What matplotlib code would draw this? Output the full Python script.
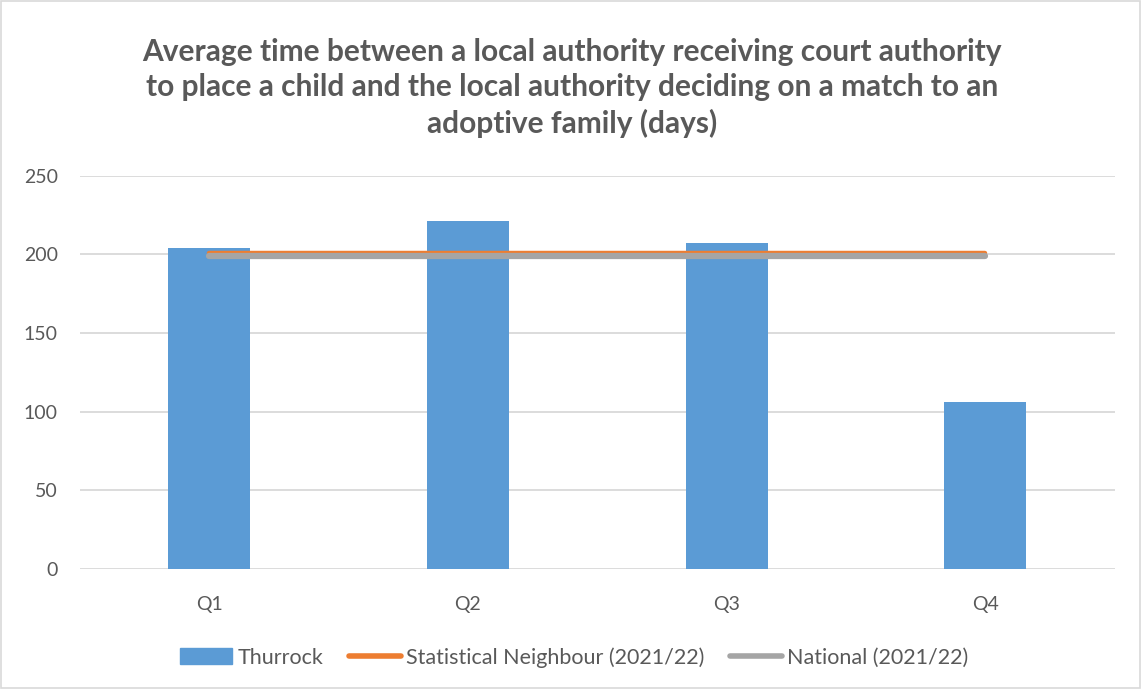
import numpy as np
import matplotlib.pyplot as plt
import matplotlib.patches as patches
from matplotlib.lines import Line2D

# quarterly adoption timeliness (days)
quarters = ['Q1', 'Q2', 'Q3', 'Q4']
thurrock = [204, 221, 207, 106]
stat_neighbour = [201, 201, 201, 201]
national = [199, 199, 199, 199]

plt.rcParams['font.family'] = ['Lato', 'DejaVu Sans']
text_grey = '#595959'
bar_col = '#5b9bd5'
orange = '#ed7d31'
grey = '#a5a5a5'

fig = plt.figure(figsize=(11.42, 6.89), dpi=100)
ax = fig.add_axes([0.070, 0.174, 0.906, 0.571])

x = np.arange(len(quarters))
ax.bar(x, thurrock, width=0.317, color=bar_col, zorder=2)
ax.plot(x, stat_neighbour, color=orange, lw=3.2, solid_capstyle='round', zorder=3)
ax.plot(x, national, color=grey, lw=4.5, solid_capstyle='round', zorder=4)

ax.set_xlim(-0.5, 3.5)
ax.set_ylim(0, 250)
ax.set_yticks(range(0, 251, 50))
ax.set_xticks(x)
ax.set_xticklabels(quarters)
ax.yaxis.grid(True, color='#d9d9d9', lw=1.3, zorder=0)
for s in ax.spines.values():
    s.set_visible(False)
ax.tick_params(length=0, labelsize=14, labelcolor=text_grey)
ax.tick_params(axis='y', pad=16)
ax.tick_params(axis='x', pad=19)

fig.text(0.501, 1 - 88 / 689,
         'Average time between a local authority receiving court authority\n'
         'to place a child and the local authority deciding on a match to an\n'
         'adoptive family (days)',
         ha='center', va='center', fontsize=21.5, fontweight='bold', color=text_grey,
         linespacing=1.32)

handles = [patches.Rectangle((0, 0), 1, 1, color=bar_col),
           Line2D([], [], color=orange, lw=4, solid_capstyle='round'),
           Line2D([], [], color=grey, lw=4, solid_capstyle='round')]
fig.legend(handles, ['Thurrock', 'Statistical Neighbour (2021/22)', 'National (2021/22)'],
           loc='center', bbox_to_anchor=(0.503, 0.046), ncol=3, frameon=False,
           fontsize=15.5, labelcolor=text_grey, handlelength=2.4, handletextpad=0.25,
           columnspacing=1.2, handleheight=0.75)

# light border round the chart
fig.add_artist(patches.Rectangle((0.001, 0.001), 0.997, 0.997, transform=fig.transFigure,
                                 fill=False, ec='#d9d9d9', lw=1.2))

fig.savefig('out.png', dpi=100)
